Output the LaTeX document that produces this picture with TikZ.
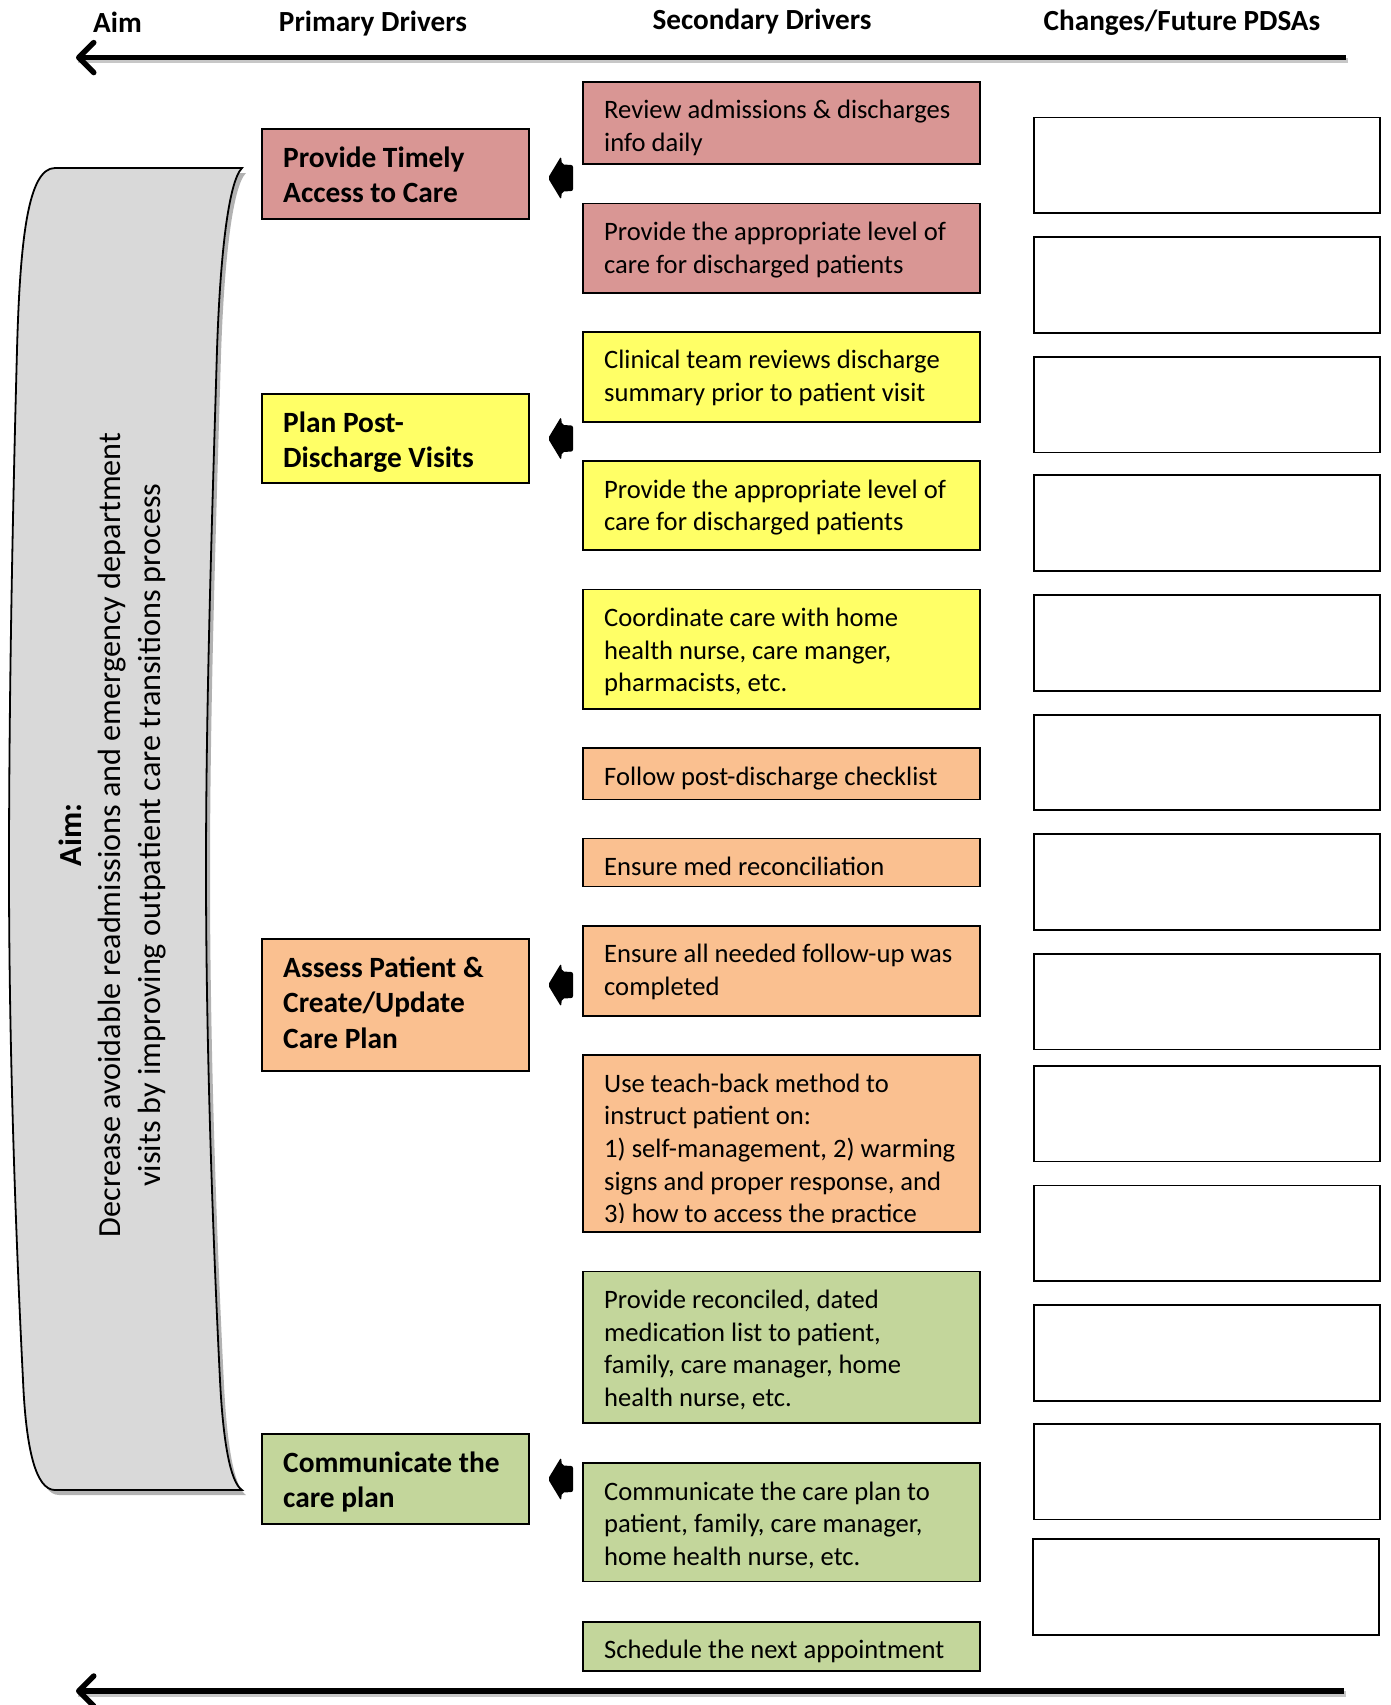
\documentclass[tikz,border=0pt]{standalone}
\usepackage{fontspec}
\setmainfont{Carlito}
\usetikzlibrary{arrows.meta,shadows}
\definecolor{dRed}{HTML}{D99694}
\definecolor{dYellow}{HTML}{FFFF66}
\definecolor{dOrange}{HTML}{FAC090}
\definecolor{dGreen}{HTML}{C3D69B}
\definecolor{dGray}{HTML}{D9D9D9}
\newcommand\secfnt{\fontsize{26.6}{32.6}\selectfont}
\newcommand\prmfnt{\fontsize{29.4}{35.8}\selectfont\bfseries}
\newcommand\hdrfnt{\fontsize{29.2}{32}\selectfont\bfseries}
\newcommand\aimfnt{\fontsize{32.2}{39.5}\selectfont}
\tikzset{
  secbox/.style={draw, line width=1.8pt, minimum width=397pt, inner sep=0pt, outer sep=0pt},
  sectext/.style={anchor=north west, inner sep=0pt, align=left, font=\secfnt},
  prmbox/.style={draw, line width=1.8pt, minimum width=267pt, inner sep=0pt, outer sep=0pt},
  prmtext/.style={anchor=north west, inner sep=0pt, align=left, font=\prmfnt},
  pdsabox/.style={draw, line width=1.8pt, fill=white, minimum width=346pt, inner sep=0pt, outer sep=0pt},
  hdr/.style={anchor=base, inner sep=0pt, font=\hdrfnt},
  mainline/.style={line width=5.5pt, -{Straight Barb[length=15pt,width=30pt,round]}},
  lineshadow/.style={line width=5.5pt, black!22},
  blockarr/.style={fill=black, rounded corners=2pt},
  scrollshape/.style={fill=dGray, draw=black, line width=1.8pt,
    drop shadow={shadow xshift=4pt, shadow yshift=-5pt, opacity=0.3, fill=black}}
}
\newcommand\secdrv[5]{%
  \node[secbox, fill=#4, minimum height={(#3-#2)*1pt}] (#1) at (781.5,{(#2+#3)/2}) {};
  \node[sectext] (#1t) at ([xshift=21pt,yshift=-14.2pt]#1.north west) {\strut #5};}
\newcommand\prmdrv[5]{%
  \node[prmbox, fill=#4, minimum height={(#3-#2)*1pt}] (#1) at (395.5,{(#2+#3)/2}) {};
  \node[prmtext] (#1t) at ([xshift=21pt,yshift=-12.9pt]#1.north west) {\strut #5};}
\newcommand\pdsa[4]{%
  \node[pdsabox, minimum height={(#3-#2)*1pt}] (#1) at (#4,{(#2+#3)/2}) {};}
\newcommand\blkarrow[1]{%
  \fill[blockarr] (548,#1) -- (561,#1-21.5) -- (562,#1-13.5) -- (573,#1-13)
    -- (573,#1+13) -- (562,#1+13.5) -- (561,#1+21.5) -- cycle;}
\begin{document}
\begin{tikzpicture}[x=1pt,y=-1pt]
\useasboundingbox (0,0) rectangle (1391,1705);

% headers
\node[hdr] (hAim) at (117.5,32) {Aim};
\node[hdr] (hPrim) at (373,31.5) {Primary Drivers};
\node[hdr] (hSec) at (762,29.4) {Secondary Drivers};
\node[hdr] (hChg) at (1182,30.5) {Changes/Future PDSAs};

% main arrows
\coordinate (topR) at (1346,57.6);
\coordinate (topL) at (76,57.6);
\coordinate (botR) at (1344,1691);
\coordinate (botL) at (76,1691);
\draw[lineshadow] ([xshift=2pt,yshift=-3pt]topR) -- ([xshift=2pt,yshift=-3pt]topL);
\draw[lineshadow] ([xshift=2pt,yshift=-3pt]botR) -- ([xshift=2pt,yshift=-3pt]botL);
\draw[mainline] (topR) -- (topL);
\draw[mainline] (botR) -- (botL);

% aim scroll
\path[scrollshape] (55,168) -- (242,168)
  .. controls (228,182) and (220,260) .. (217,350)
  .. controls (212,520) and (206,700) .. (206,870)
  .. controls (206,1060) and (214,1260) .. (220,1380)
  .. controls (223,1440) and (230,1482) .. (242,1490)
  -- (55,1490)
  .. controls (36,1490) and (26,1450) .. (23,1380)
  .. controls (15,1220) and (9,1040) .. (9,870)
  .. controls (9,690) and (13,500) .. (17,350)
  .. controls (20,240) and (28,168) .. (55,168) -- cycle;
\node[rotate=90, align=center, font=\aimfnt, inner sep=0pt] (aimtext) at (112,835)
  {\textbf{Aim:}\\Decrease avoidable readmissions and emergency department\\visits by improving outpatient care transitions process};

% primary drivers
\prmdrv{p1}{129}{219}{dRed}{Provide Timely\\Access to Care}
\prmdrv{p2}{394}{483}{dYellow}{Plan Post-\\Discharge Visits}
\prmdrv{p3}{939}{1071}{dOrange}{Assess Patient \&\\Create/Update\\Care Plan}
\prmdrv{p4}{1434}{1524}{dGreen}{Communicate the\\care plan}

% block arrows
\blkarrow{178}
\blkarrow{438.5}
\blkarrow{985}
\blkarrow{1479}

% secondary drivers
\secdrv{s1}{81.6}{164.2}{dRed}{Review admissions \& discharges\\info daily}
\secdrv{s2}{203.4}{292.6}{dRed}{Provide the appropriate level of\\care for discharged patients}
\secdrv{s3}{331.7}{422.0}{dYellow}{Clinical team reviews discharge\\summary prior to patient visit}
\secdrv{s4}{461.1}{550.3}{dYellow}{Provide the appropriate level of\\care for discharged patients}
\secdrv{s5}{589.5}{709.1}{dYellow}{Coordinate care with home\\health nurse, care manger,\\pharmacists, etc.}
\secdrv{s6}{748.3}{799.4}{dOrange}{Follow post-discharge checklist}
\secdrv{s7}{838.5}{886.4}{dOrange}{Ensure med reconciliation}
\secdrv{s8}{925.6}{1015.8}{dOrange}{Ensure all needed follow-up was\\completed}
\node[secbox, fill=dOrange, draw=none, minimum height=177.3pt] (s9) at (781.5,1143.65) {};
\begin{scope}
  \clip ([yshift=10pt]s9.south west) rectangle (s9.north east);
  \node[sectext] (s9t) at ([xshift=21pt,yshift=-14.2pt]s9.north west)
    {\strut Use teach-back method to\\instruct patient on:\\1) self-management, 2) warming\\signs and proper response, and\\3) how to access the practice};
\end{scope}
\draw[line width=1.8pt] (s9.south west) rectangle (s9.north east);
\secdrv{s10}{1271.4}{1422.6}{dGreen}{Provide reconciled, dated\\medication list to patient,\\family, care manager, home\\health nurse, etc.}
\secdrv{s11}{1462.8}{1581.4}{dGreen}{Communicate the care plan to\\patient, family, care manager,\\home health nurse, etc.}
\secdrv{s12}{1621.6}{1670.6}{dGreen}{Schedule the next appointment}

% changes / future PDSAs
\pdsa{c1}{117.5}{213.2}{1207}
\pdsa{c2}{237.1}{332.8}{1207}
\pdsa{c3}{356.7}{452.4}{1207}
\pdsa{c4}{475.3}{571.0}{1207}
\pdsa{c5}{594.9}{690.6}{1207}
\pdsa{c6}{714.6}{810.3}{1207}
\pdsa{c7}{834.2}{929.9}{1207}
\pdsa{c8}{953.8}{1049.5}{1207}
\pdsa{c9}{1065.8}{1161.5}{1207}
\pdsa{c10}{1185.5}{1281.2}{1207}
\pdsa{c11}{1305.1}{1400.8}{1207}
\pdsa{c12}{1423.7}{1519.4}{1207}
\pdsa{c13}{1539.0}{1634.7}{1206}
\end{tikzpicture}
\end{document}
